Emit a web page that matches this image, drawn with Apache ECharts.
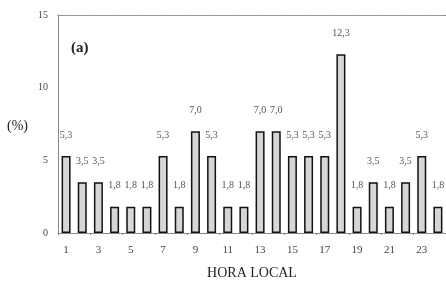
<!DOCTYPE html>
<html>
<head>
<meta charset="utf-8">
<script src="https://cdn.jsdelivr.net/npm/echarts@6/dist/echarts.min.js"></script>
<style>
  html, body { margin: 0; padding: 0; background: #fff; }
  #chart { width: 446px; height: 289px; }
</style>
</head>
<body>
<div id="chart"></div>
<script>
// hora local 1..24
const hours = ['1','2','3','4','5','6','7','8','9','10','11','12','13','14','15','16','17','18','19','20','21','22','23','24']
// porcentaje (%)
const values = [5.3, 3.5, 3.5, 1.8, 1.8, 1.8, 5.3, 1.8, 7.0, 5.3, 1.8, 1.8, 7.0, 7.0, 5.3, 5.3, 5.3, 12.3, 1.8, 3.5, 1.8, 3.5, 5.3, 1.8]
const yTicks = [0, 5, 10, 15]

const serif = '"Liberation Serif", "DejaVu Serif", serif'
const chart = echarts.init(document.getElementById('chart'))

chart.setOption({
  animation: false,
  grid: {
    left: 58,
    right: 0,
    top: 15,
    bottom: 56
  },
  title: {
    text: '(a)',
    left: 66,
    top: 36,
    textStyle: { fontFamily: serif, fontSize: 15, fontWeight: 'bold', color: '#222' }
  },
  graphic: [
    {
      type: 'text',
      left: 7,
      top: 119,
      style: { text: '(%)', font: '14px ' + serif, fill: '#222' }
    }
  ],
  xAxis: [
    {
      type: 'category',
      data: hours,
      name: 'HORA LOCAL',
      nameLocation: 'middle',
      nameGap: 33,
      nameTextStyle: { fontFamily: serif, fontSize: 14, color: '#222' },
      axisLine: { lineStyle: { color: '#888' } },
      axisTick: { show: true, length: 2, lineStyle: { color: '#888' } },
      axisLabel: {
        interval: 1,
        margin: 12,
        fontFamily: serif,
        fontSize: 11,
        color: '#444'
      }
    },
    {
      // borde superior punteado
      type: 'category',
      data: hours,
      position: 'top',
      axisLine: { show: true, lineStyle: { color: '#888', type: 'dotted', width: 1.2 } },
      axisTick: { show: false },
      axisLabel: { show: false }
    }
  ],
  yAxis: {
    type: 'value',
    min: yTicks[0],
    max: yTicks[yTicks.length - 1],
    interval: 5,
    axisLine: { show: true, lineStyle: { color: '#888' } },
    axisTick: { show: false },
    splitLine: { show: false },
    axisLabel: { fontFamily: serif, fontSize: 10, color: '#444', margin: 10 }
  },
  series: [
    {
      type: 'bar',
      data: values,
      barWidth: 9,
      itemStyle: {
        color: '#d6d6d6',
        borderColor: '#111',
        borderWidth: 1.5
      },
      label: {
        show: true,
        position: 'top',
        distance: 16,
        fontFamily: serif,
        fontSize: 10,
        color: '#555',
        formatter: p => p.value.toFixed(1).replace('.', ',')
      }
    }
  ]
})
</script>
</body>
</html>
